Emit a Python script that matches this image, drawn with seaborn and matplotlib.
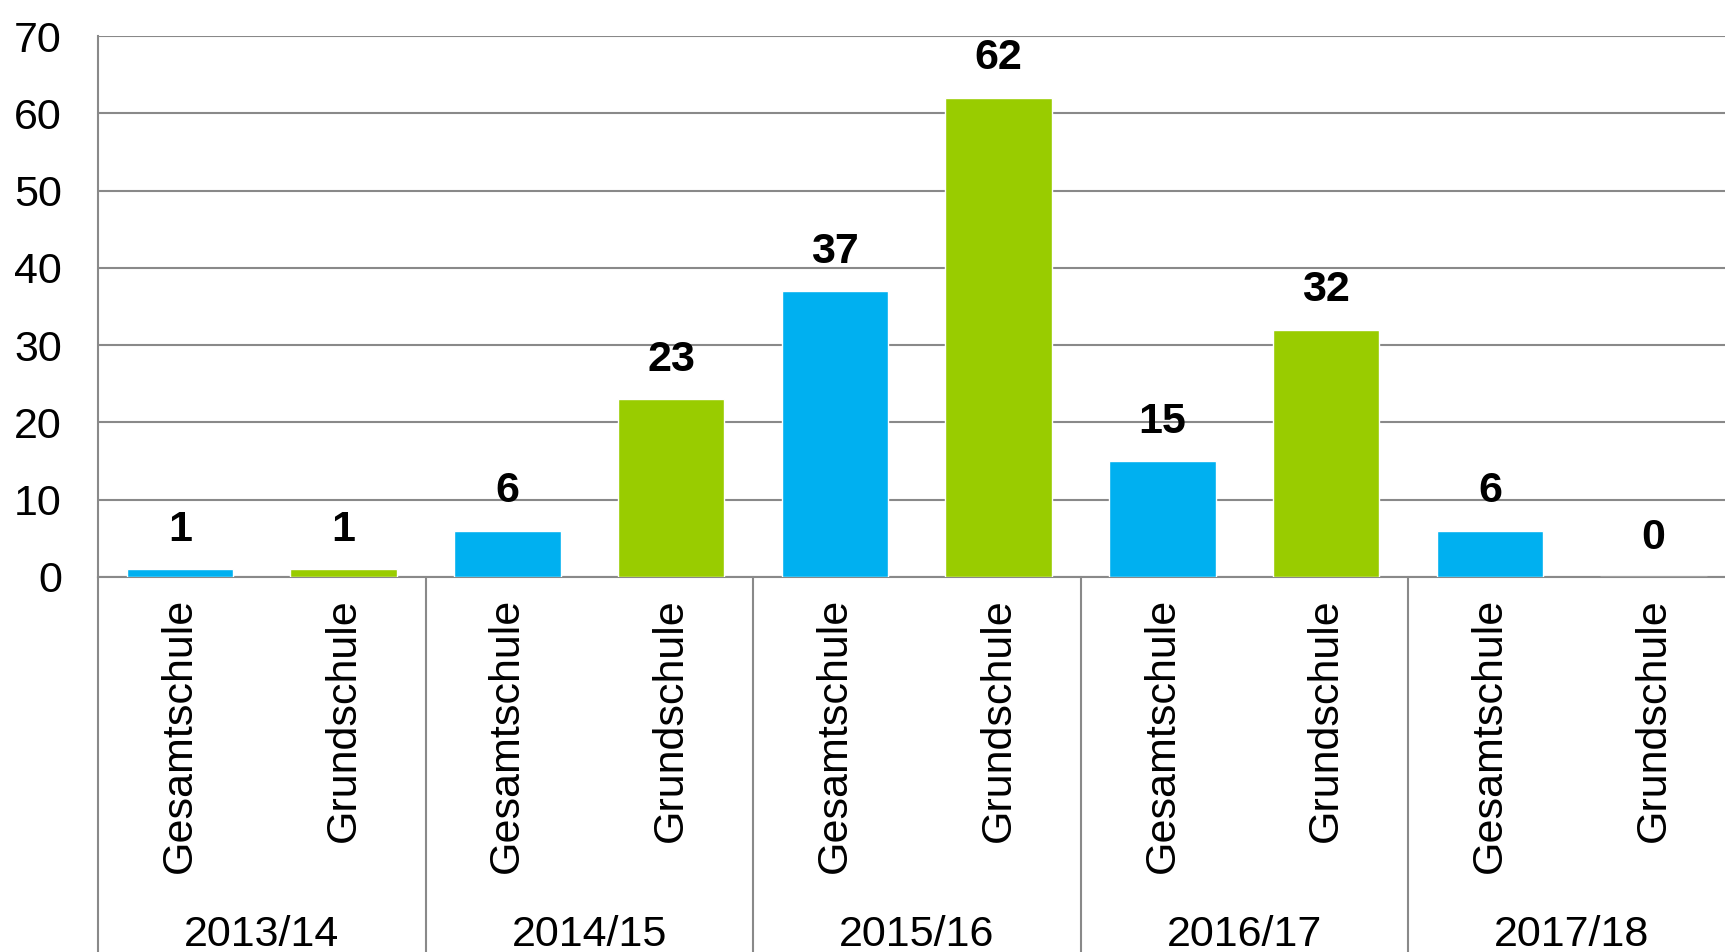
import pandas as pd
import seaborn as sns
import matplotlib.pyplot as plt
import matplotlib.transforms as mtransforms

years = ['2013/14', '2014/15', '2015/16', '2016/17', '2017/18']
schools = ['Gesamtschule', 'Grundschule']
gesamtschule = [1, 6, 37, 15, 6]
grundschule = [1, 23, 62, 32, 0]
y_ticks = [0, 10, 20, 30, 40, 50, 60, 70]

colors = {'Gesamtschule': '#00B0F0', 'Grundschule': '#99CC00'}
line_col = '#898989'

sns.set_style('white', rc={'text.color': 'black', 'xtick.color': 'black',
                           'ytick.color': 'black'})
plt.rcParams['font.family'] = ['Liberation Sans', 'DejaVu Sans']

df = pd.DataFrame({
    'Jahr': years * 2,
    'Schulform': ['Gesamtschule'] * len(years) + ['Grundschule'] * len(years),
    'Anzahl': gesamtschule + grundschule,
})

fig = plt.figure(figsize=(17.25, 9.52), dpi=100)
# plot area runs past the right edge, as in the original export
ax = fig.add_axes([98 / 1725, 375 / 952, 1637.5 / 1725, 541 / 952])

sns.barplot(data=df, x='Jahr', y='Anzahl', hue='Schulform', order=years,
            hue_order=schools, palette=colors, width=1.0, gap=0.35,
            saturation=1, legend=False, ax=ax, zorder=3)

for container in ax.containers:
    ax.bar_label(container, padding=14, fontsize=31, fontweight='bold',
                 color='black', clip_on=False)

ax.set_xlim(-0.5, len(years) - 0.5)
ax.set_ylim(0, 70)
ax.set_yticks(y_ticks)
ax.yaxis.grid(True, color=line_col, lw=1.5, zorder=0)
ax.xaxis.grid(False)
ax.tick_params(axis='y', labelsize=31, length=0, pad=26, labelcolor='black')

# school names under each bar, years below them
tick_pos = [i + d for i in range(len(years)) for d in (-0.25, 0.25)]
ax.set_xticks(tick_pos)
ax.set_xticklabels(schools * len(years), rotation=90, fontsize=31)
ax.tick_params(axis='x', length=0, pad=15, labelcolor='black')

trans = mtransforms.blended_transform_factory(ax.transData, ax.transAxes)
for i, year in enumerate(years):
    ax.text(i, -0.662, year, transform=trans, ha='center', va='center',
            fontsize=31, color='black')
for i in range(len(years) + 1):
    ax.plot([i - 0.5, i - 0.5], [0, -0.7], transform=trans, color=line_col,
            lw=1.5, clip_on=False)

for side in ['top', 'right']:
    ax.spines[side].set_visible(False)
for side in ['left', 'bottom']:
    ax.spines[side].set_color(line_col)
    ax.spines[side].set_linewidth(1.5)

ax.set_xlabel('')
ax.set_ylabel('')

plt.savefig('out.png', dpi=100)
plt.close()
